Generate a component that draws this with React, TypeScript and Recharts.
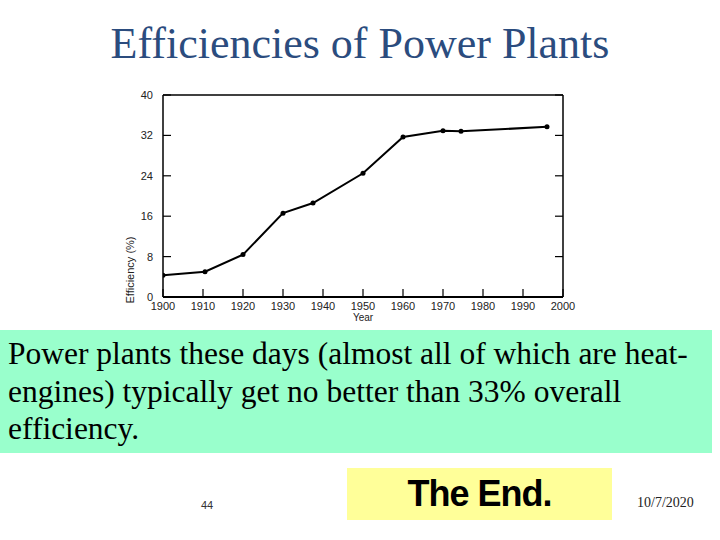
import React from 'react';
import { LineChart, Line, XAxis, YAxis } from 'recharts';

// values
const years = [1900, 1910.5, 1920, 1930, 1937.5, 1950, 1960, 1970, 1974.5, 1996];
const efficiency = [4.3, 5.0, 8.4, 16.6, 18.6, 24.5, 31.7, 32.9, 32.8, 33.7];
const yearTicks = [1900, 1910, 1920, 1930, 1940, 1950, 1960, 1970, 1980, 1990, 2000];
const efficiencyTicks = [0, 8, 16, 24, 32, 40];

const data = years.map((year, i) => ({ year, efficiency: efficiency[i] }));

const tickFont = { fontSize: 11, fill: '#222', fontFamily: '"Liberation Sans", Arial, sans-serif' };

const NoLabel = () => <g />;

function YLabel({ viewBox }: any) {
  const x = viewBox.x + 33.5;
  const y = 190;
  return (
    <text
      x={x}
      y={y}
      transform={`rotate(-90 ${x} ${y})`}
      textAnchor="middle"
      dominantBaseline="central"
      fontSize={11}
      fill="#222"
      fontFamily='"Liberation Sans", Arial, sans-serif'
    >
      Efficiency (%)
    </text>
  );
}

export default function App() {
  return (
    <div style={{ position: 'absolute', left: 0, top: 0, width: 720, height: 540, background: '#fff', overflow: 'hidden' }}>
      <div
        style={{
          position: 'absolute', left: 0, top: 22, width: 720, textAlign: 'center',
          fontFamily: '"Liberation Serif", "Times New Roman", serif', fontSize: 44, lineHeight: '44px', color: '#2B4C7E',
        }}
      >
        Efficiencies of Power Plants
      </div>

      <div style={{ position: 'absolute', left: 96, top: 80 }}>
        <LineChart width={484} height={250} data={data} margin={{ top: 15, right: 17, left: 0, bottom: 0 }}>
          <XAxis
            xAxisId="main"
            dataKey="year"
            type="number"
            domain={[1900, 2000]}
            ticks={yearTicks}
            allowDataOverflow
            height={33}
            tickSize={-8}
            tickMargin={13}
            tick={tickFont}
            tickLine={{ stroke: '#000', strokeWidth: 1.2 }}
            axisLine={{ stroke: '#000', strokeWidth: 1.8 }}
            label={{ value: 'Year', position: 'insideBottom', offset: 9, fontSize: 10, fill: '#222', fontFamily: '"Liberation Sans", Arial, sans-serif' }}
          />
          <XAxis
            xAxisId="top"
            orientation="top"
            mirror
            type="number"
            domain={[1900, 2000]}
            ticks={yearTicks}
            allowDataOverflow
            tickSize={8}
            tick={NoLabel}
            tickLine={{ stroke: '#000', strokeWidth: 1.2 }}
            axisLine={{ stroke: '#000', strokeWidth: 1.5 }}
          />
          <YAxis
            yAxisId="main"
            type="number"
            domain={[0, 40]}
            ticks={efficiencyTicks}
            allowDataOverflow
            width={67}
            tickSize={-8}
            tickMargin={18}
            tick={tickFont}
            tickLine={{ stroke: '#000', strokeWidth: 1.2 }}
            axisLine={{ stroke: '#000', strokeWidth: 1.5 }}
            label={<YLabel />}
          />
          <YAxis
            yAxisId="right"
            orientation="right"
            mirror
            type="number"
            domain={[0, 40]}
            ticks={efficiencyTicks}
            allowDataOverflow
            tickSize={8}
            tick={NoLabel}
            tickLine={{ stroke: '#000', strokeWidth: 1.2 }}
            axisLine={{ stroke: '#000', strokeWidth: 1.5 }}
          />
          <Line
            xAxisId="main"
            yAxisId="main"
            dataKey="efficiency"
            type="linear"
            stroke="#000"
            strokeWidth={2}
            dot={{ r: 2.5, fill: '#000', stroke: 'none' }}
            activeDot={false}
            isAnimationActive={false}
          />
        </LineChart>
      </div>

      <div
        style={{
          position: 'absolute', left: 0, top: 330, width: 712, height: 123, background: '#99FFCC',
          boxSizing: 'border-box', paddingTop: 5, paddingLeft: 8,
          fontFamily: '"Liberation Serif", "Times New Roman", serif', fontSize: 31.5, lineHeight: '37.5px', color: '#000',
          whiteSpace: 'nowrap',
        }}
      >
        Power plants these days (almost all of which are heat-<br />
        engines) typically get no better than 33% overall<br />
        efficiency.
      </div>

      <div
        style={{
          position: 'absolute', left: 190, top: 500, width: 34, textAlign: 'center',
          fontFamily: '"Liberation Sans", Arial, sans-serif', fontSize: 11, lineHeight: '11px', color: '#333',
        }}
      >
        44
      </div>

      <div
        style={{
          position: 'absolute', left: 347, top: 468, width: 265, height: 52, background: '#FFFF99',
          textAlign: 'center', fontFamily: '"Liberation Sans", Arial, sans-serif', fontWeight: 'bold',
          fontSize: 36, lineHeight: '52px', letterSpacing: -1, color: '#000',
        }}
      >
        The End.
      </div>

      <div
        style={{
          position: 'absolute', left: 637, top: 496, fontFamily: '"Liberation Serif", "Times New Roman", serif',
          fontSize: 14, lineHeight: '14px', color: '#222',
        }}
      >
        10/7/2020
      </div>
    </div>
  );
}
